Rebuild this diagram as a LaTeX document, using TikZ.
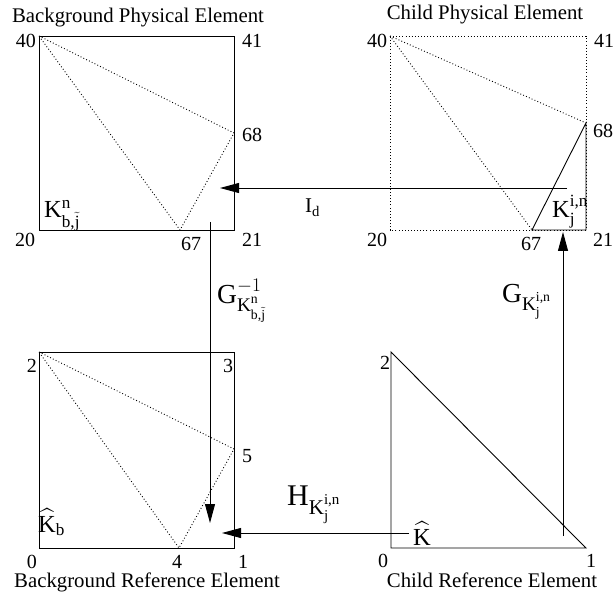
\documentclass[tikz,border=0pt]{standalone}
\usepackage{fix-cm}
\usepackage{amsmath}
\usepackage{exscale}
\usepackage{fontspec}
\setmainfont{Liberation Serif}
\usetikzlibrary{arrows.meta}
\tikzset{
  solidline/.style={line width=0.9pt},
  dotline/.style={line width=0.9pt, dash pattern=on 0.9pt off 2.2pt},
  flow/.style={line width=0.9pt, -{Triangle[length=19pt,width=10pt]}},
  num/.style={font=\fontsize{20}{24}\selectfont, inner sep=0pt},
  ttl/.style={font=\fontsize{20.8}{25}\selectfont, inner sep=0pt, anchor=base},
  lbl/.style={font=\fontsize{24.5}{29}\selectfont, inner sep=0pt, anchor=base west},
}
\newcommand{\tr}[1]{\text{#1}}
\begin{document}
\begin{tikzpicture}[x=1pt,y=-1pt]
\useasboundingbox (0,0) rectangle (615,601);

% ---- Background physical element
\coordinate (a40) at (39,36);
\coordinate (a41) at (234,36);
\coordinate (a21) at (234,230);
\coordinate (a20) at (39,230);
\coordinate (a68) at (234,133);
\coordinate (a67) at (180,230);
\draw[solidline] (a40) -- (a41) -- (a21) -- (a20) -- cycle;
\draw[dotline] (a40) -- (a68) -- (a67) -- cycle;

% ---- Child physical element
\coordinate (b40) at (390,36);
\coordinate (b41) at (586,36);
\coordinate (b21) at (586,230);
\coordinate (b20) at (390,230);
\coordinate (b68) at (586,123);
\coordinate (b67) at (532,230);
\draw[dotline] (b40) -- (b41) -- (b21) -- (b20) -- cycle;
\draw[dotline] (b40) -- (b68);
\draw[dotline] (b40) -- (b67);
\draw[solidline] (b67) -- (b68) -- (b21) -- cycle;

% ---- Background reference element
\coordinate (c2) at (39,352);
\coordinate (c3) at (234,352);
\coordinate (c1) at (234,548);
\coordinate (c0) at (39,548);
\coordinate (c5) at (234,449);
\coordinate (c4) at (179,548);
\draw[solidline] (c2) -- (c3) -- (c1) -- (c0) -- cycle;
\draw[dotline] (c2) -- (c5) -- (c4) -- cycle;

% ---- Child reference element
\coordinate (d2) at (391,352);
\coordinate (d0) at (391,548);
\coordinate (d1) at (586,548);
\draw[solidline] (d2) -- (d0) -- (d1) -- cycle;

% ---- Titles
\node[ttl] (t1) at (138,23) {Background Physical Element};
\node[ttl] (t2) at (485,20) {Child Physical Element};
\node[ttl] (t3) at (147,587) {Background Reference Element};
\node[ttl] (t4) at (492,587) {Child Reference Element};

% ---- Vertex numbers
\node[num] (n1) at (26,41) {40};
\node[num] (n2) at (252,41) {41};
\node[num] (n3) at (252,135) {68};
\node[num] (n4) at (25,240) {20};
\node[num] (n5) at (191,244) {67};
\node[num] (n6) at (252,240) {21};

\node[num] (n7) at (377,41) {40};
\node[num] (n8) at (604,41) {41};
\node[num] (n9) at (603,131) {68};
\node[num] (n10) at (377,240) {20};
\node[num] (n11) at (531,244) {67};
\node[num] (n12) at (603,240) {21};

\node[num] (n13) at (32,366) {2};
\node[num] (n14) at (228,366) {3};
\node[num] (n15) at (247,456) {5};
\node[num] (n16) at (32,562) {0};
\node[num] (n17) at (177,562) {4};
\node[num] (n18) at (243,562) {1};

\node[num] (n19) at (385,363) {2};
\node[num] (n20) at (383,561) {0};
\node[num] (n21) at (591,561) {1};

% ---- Element labels
\node[lbl] (kb) at (44,218) {$\tr{K}^{\tr{n}}_{\tr{b,}\tilde{\tr{j}}}$};
\node[lbl] (kc) at (552,218) {$\tr{K}^{\tr{i,n}}_{\tr{j}}$};
\node[lbl] (khb) at (38,532) {$\widehat{\tr{K}}_{\tr{b}}$};
\node[lbl] (khc) at (413,545) {$\widehat{\tr{K}}$};

% ---- Map labels
\node[lbl, font=\fontsize{21}{25}\selectfont] (id) at (305,213) {$\tr{I}_{\tr{d}}$};
\node[lbl, font=\fontsize{27.5}{32}\selectfont] (ginv) at (217,303) {$\tr{G}^{-1}_{\tr{K}^{\tr{n}}_{\tr{b,}\tilde{\tr{j}}}}$};
\node[lbl, font=\fontsize{27.5}{32}\selectfont] (g) at (502,302) {$\tr{G}_{\tr{K}^{\tr{i,n}}_{\tr{j}}}$};
\node[lbl, font=\fontsize{30}{35}\selectfont] (h) at (287,505) {$\tr{H}_{\tr{K}^{\tr{i,n}}_{\tr{j}}}$};

% ---- Arrows
\coordinate (is) at (567,188);
\coordinate (it) at (220,188);
\coordinate (gis) at (210,222);
\coordinate (git) at (210,523);
\coordinate (hs) at (409,533);
\coordinate (ht) at (222,533);
\coordinate (gs) at (563,536);
\coordinate (gt) at (563,232);
\draw[flow] (is) -- (it);
\draw[flow] (gis) -- (git);
\draw[flow] (hs) -- (ht);
\draw[flow] (gs) -- (gt);
\end{tikzpicture}
\end{document}
